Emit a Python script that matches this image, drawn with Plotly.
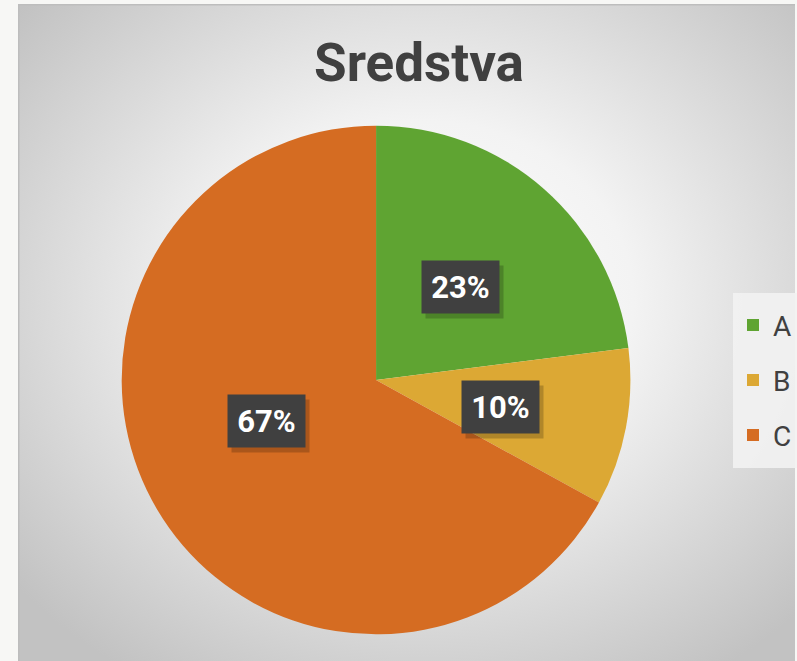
import base64, math
import plotly.graph_objects as go

title_text = "Sredstva"
labels = ["A", "B", "C"]
values = [23, 10, 67]
colors = ["#5fa432", "#dca834", "#d56c22"]

W, H = 797, 661
FONT = "Roboto, Liberation Sans, sans-serif"

# pie placement (pixels)
pcx, pcy, pr = 377, 380, 255
dom_x = [(pcx - pr) / W, (pcx + pr) / W]
dom_y = [1 - (pcy + pr) / H, 1 - (pcy - pr) / H]

svg = (
    "<svg xmlns='http://www.w3.org/2000/svg' width='779' height='656' viewBox='0 0 779 656' preserveAspectRatio='none'>"
    "<defs><radialGradient id='g' cx='52%' cy='45%' r='68%'>"
    "<stop offset='0' stop-color='#ffffff'/><stop offset='0.4' stop-color='#f3f3f3'/>"
    "<stop offset='1' stop-color='#c2c2c2'/></radialGradient></defs>"
    "<rect width='779' height='656' fill='url(#g)'/>"
    "<line x1='0' y1='0.5' x2='779' y2='0.5' stroke='#bdbdbd' stroke-width='2'/>"
    "<line x1='0.5' y1='0' x2='0.5' y2='656' stroke='#bdbdbd' stroke-width='2'/>"
    "</svg>"
)
src = "data:image/svg+xml;base64," + base64.b64encode(svg.encode()).decode()

# legend entries: text drawn at 28px inside a 40px legend row (for row spacing)
legend_labels = [f"<span style='font-size:28px;baseline-shift:5px'>{l}</span>" for l in labels]

fig = go.Figure(go.Pie(
    labels=legend_labels, values=values, sort=False, direction="clockwise", rotation=0,
    marker=dict(colors=colors, line=dict(width=0)),
    textinfo="none", customdata=labels,
    hovertemplate="%{customdata}: %{percent}<extra></extra>",
    domain=dict(x=dom_x, y=dom_y),
))

# data label boxes at half radius, angle from the data
total = sum(values)
cum = 0
cxp = (dom_x[0] + dom_x[1]) / 2
cyp = (dom_y[0] + dom_y[1]) / 2
rxp = (dom_x[1] - dom_x[0]) / 2
ryp = (dom_y[1] - dom_y[0]) / 2
anns = []
for v in values:
    mid = (cum + v / 2) / total * 2 * math.pi
    cum += v
    x = cxp + 0.5 * rxp * math.sin(mid)
    y = cyp + 0.5 * ryp * math.cos(mid) - 3 / H
    txt = f"{round(v / total * 100)}%"
    anns.append(dict(x=x + 4 / W, y=y - 5 / H, xref="paper", yref="paper", text=" ",
                     showarrow=False, width=75, height=50, bgcolor="rgba(0,0,0,0.2)"))
    anns.append(dict(x=x, y=y, xref="paper", yref="paper", text=f"<b>{txt}</b>",
                     showarrow=False, width=75, height=50, bgcolor="#404040",
                     font=dict(family=FONT, size=31, color="#ffffff")))

fig.update_layout(
    width=W, height=H,
    margin=dict(l=0, r=0, t=0, b=0),
    paper_bgcolor="#f7f7f5",
    images=[dict(source=src, xref="paper", yref="paper", x=18 / W, y=1 - 4 / H,
                 sizex=(W - 18) / W, sizey=(H - 4) / H, sizing="stretch",
                 xanchor="left", yanchor="top", layer="below")],
    title=dict(text=f"<b>{title_text}</b>", x=419 / W, xanchor="center",
               y=1 - 62 / H, yanchor="middle",
               font=dict(family=FONT, size=53, color="#404040")),
    showlegend=True,
    legend=dict(x=735 / W, y=1 - 380 / H, xanchor="left", yanchor="middle",
                bgcolor="rgba(242,242,242,0.9)",
                font=dict(family=FONT, size=40, color="#404040"),
                itemwidth=30, traceorder="normal"),
    annotations=anns,
)

fig.write_html("out.html", config={"displayModeBar": False},
               post_script="document.body.style.margin='0';document.body.style.background='#f7f7f5';")
